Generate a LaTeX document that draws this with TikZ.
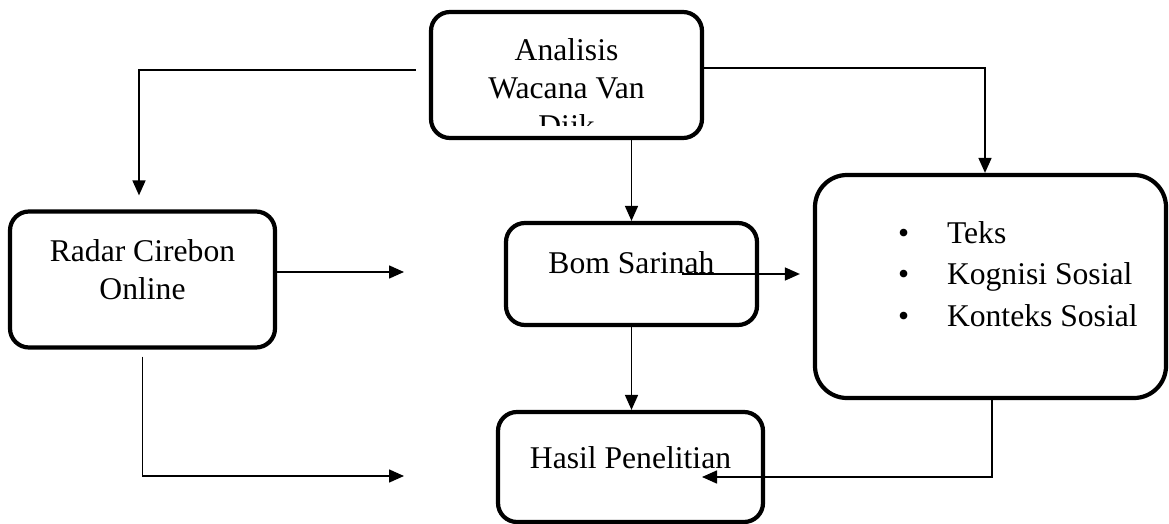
\documentclass[tikz,border=0pt]{standalone}
\usepackage{fontspec}
\setmainfont{Liberation Serif}
\usetikzlibrary{arrows.meta, positioning}

\begin{document}
\begin{tikzpicture}[
    every node/.style={font=\fontsize{18}{21.6}\selectfont},
    box/.style={
        rectangle,
        rounded corners=0.38cm,
        draw=black,
        line width=2.4pt,
        fill=white,
        align=flush center,
        inner sep=0pt,
        text height=1cm
    },
    arrow/.style={
        -{Triangle[length=0.3cm, width=0.26cm]},
        line width=0.9pt
    }
]

\useasboundingbox (0,0) rectangle (23.38,-10.48);

\node (ana) [box, minimum width=5.42cm, minimum height=2.52cm] at (11.33,-1.5) {};

\begin{scope}
\clip ([yshift=0.3cm]ana.south west) rectangle (ana.north east);
\node (anatext) [anchor=base, align=flush center, text width=5.4cm, inner sep=0pt,
    text height=1cm] at ([yshift=-1.02cm]ana.north) {Analisis\\Wacana Van\\Dijk};
\end{scope}

\node (radar) [box, text width=5.3cm, text depth=1.72cm] at (2.85,-5.59) {Radar Cirebon\\Online};

\node (bom) [box, text width=5.02cm, text depth=1.04cm] at (12.63,-5.48) {Bom Sarinah};

\node (ctx) [box, rounded corners=0.64cm, align=flush left, text width=7.02cm,
    text height=1.36cm, text depth=3.1cm,
    font=\fontsize{18}{23.8}\selectfont] at (19.81,-5.73) {
\hspace*{1.66cm}\makebox[0.98cm][l]{•}Teks\\
\hspace*{1.66cm}\makebox[0.98cm][l]{•}Kognisi Sosial\\
\hspace*{1.66cm}\makebox[0.98cm][l]{•}Konteks Sosial
};

\node (hasil) [box, text width=5.3cm, text height=1.12cm, text depth=1.08cm] at (12.61,-9.34) {Hasil Penelitian};

\coordinate (radarend) at (8.08,-5.44);
\coordinate (lowend) at (8.08,-9.52);

\draw [arrow, shorten >=0.28cm] ([shift={(-0.26cm,0.1cm)}]ana.west) -| ([xshift=-0.07cm]radar.north);
\draw [arrow] ([yshift=0.14cm]ana.east) -| ([xshift=-0.11cm]ctx.north);
\draw [arrow] (ana.south -| bom.north) -- (bom.north);
\draw [arrow] ([yshift=0.15cm]radar.east) -- (radarend);
\draw [arrow, shorten >=0.26cm] ([xshift=1.01cm]bom.center) -- (bom.center -| ctx.west);
\draw [arrow] (bom.south) -- (bom.south |- hasil.north);
\draw [arrow, shorten <=0.14cm] (radar.south) |- (lowend);
\draw [arrow] ([xshift=0.03cm]ctx.south) |- ([shift={(1.43cm,-0.2cm)}]hasil.center);

\end{tikzpicture}
\end{document}
